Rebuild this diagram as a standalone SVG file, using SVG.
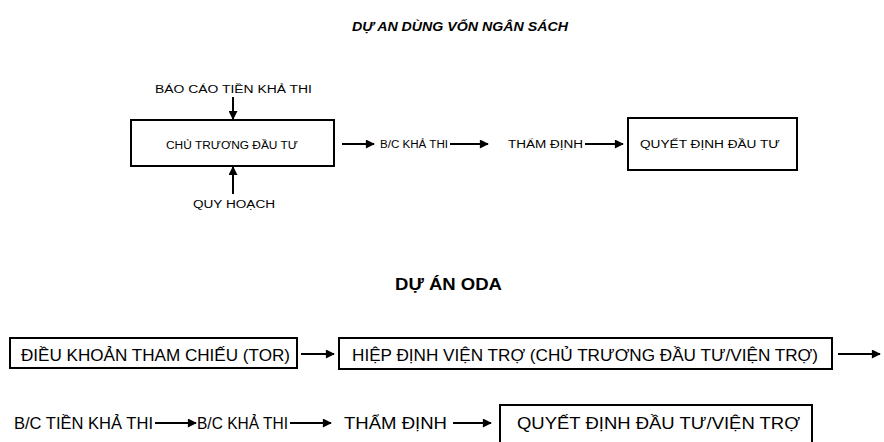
<svg xmlns="http://www.w3.org/2000/svg" width="884" height="442" viewBox="0 0 884 442">
  <style>
    .title { font-family: "Liberation Sans", Arial, sans-serif; font-weight: bold; font-style: italic; fill: #000; }
    .heading { font-family: "Liberation Sans Narrow", "Liberation Sans", Arial, sans-serif; font-weight: bold; font-style: normal; fill: #000; }
    .small { font-family: "Liberation Sans", Arial, sans-serif; font-size: 10px; fill: #000; }
    .big { font-family: "Liberation Sans Narrow", "Liberation Sans", Arial, sans-serif; font-size: 16px; fill: #000; }
    .box { fill: #fff; stroke: #000; stroke-width: 2; }
    .edge { stroke: #000; stroke-width: 2; fill: none; marker-end: url(#arrow); }
  </style>
  <defs>
    <marker id="arrow" viewBox="0 0 10 10" refX="9" refY="5" markerWidth="5" markerHeight="4.5" orient="auto" markerUnits="strokeWidth">
      <path d="M0,0 L10,5 L0,10 z" fill="#000"/>
    </marker>
  </defs>
  <rect width="884" height="442" fill="#fff"/>

  <!-- section 1: state budget projects -->
  <text class="title" x="352" y="31" font-size="12" textLength="216" lengthAdjust="spacingAndGlyphs">DỰ AN DÙNG VỐN NGÂN SÁCH</text>

  <g id="bao-cao-tien-kha-thi">
    <text class="small" x="155" y="93" textLength="157" lengthAdjust="spacingAndGlyphs">BÁO CÁO TIỀN KHẢ THI</text>
  </g>
  <g id="chu-truong-dau-tu">
    <rect class="box" x="131" y="120" width="203" height="46"/>
    <text class="small" x="232" y="149" text-anchor="middle" textLength="132" lengthAdjust="spacingAndGlyphs">CHỦ TRƯƠNG ĐẦU TƯ</text>
  </g>
  <g id="quy-hoach">
    <text class="small" x="193" y="208" textLength="82" lengthAdjust="spacingAndGlyphs">QUY HOẠCH</text>
  </g>
  <g id="bc-kha-thi-1">
    <text class="small" x="380" y="148" textLength="68" lengthAdjust="spacingAndGlyphs">B/C KHẢ THI</text>
  </g>
  <g id="tham-dinh-1">
    <text class="small" x="508" y="148" textLength="75" lengthAdjust="spacingAndGlyphs">THẨM ĐỊNH</text>
  </g>
  <g id="quyet-dinh-dau-tu">
    <rect class="box" x="628" y="118" width="169" height="52"/>
    <text class="small" x="710" y="148" text-anchor="middle" textLength="140" lengthAdjust="spacingAndGlyphs">QUYẾT ĐỊNH ĐẦU TƯ</text>
  </g>

  <!-- section 2: ODA projects -->
  <text class="heading" x="395" y="290" font-size="17" textLength="107" lengthAdjust="spacingAndGlyphs">DỰ ÁN ODA</text>

  <g id="dieu-khoan-tor">
    <rect class="box" x="10" y="338" width="287" height="30"/>
    <text class="big" x="21" y="361" textLength="269" lengthAdjust="spacingAndGlyphs">ĐIỀU KHOẢN THAM CHIẾU (TOR)</text>
  </g>
  <g id="hiep-dinh-vien-tro">
    <rect class="box" x="339" y="338" width="493" height="31"/>
    <text class="big" x="352" y="361" textLength="466" lengthAdjust="spacingAndGlyphs">HIỆP ĐỊNH VIỆN TRỢ (CHỦ TRƯƠNG ĐẦU TƯ/VIỆN TRỢ)</text>
  </g>
  <g id="bc-tien-kha-thi">
    <text class="big" x="14" y="429" textLength="139" lengthAdjust="spacingAndGlyphs">B/C TIỀN KHẢ THI</text>
  </g>
  <g id="bc-kha-thi-2">
    <text class="big" x="197" y="429" textLength="91" lengthAdjust="spacingAndGlyphs">B/C KHẢ THI</text>
  </g>
  <g id="tham-dinh-2">
    <text class="big" x="344" y="429" textLength="103" lengthAdjust="spacingAndGlyphs">THẨM ĐỊNH</text>
  </g>
  <g id="quyet-dinh-vien-tro">
    <path class="box" d="M500,443 V405 H812 V443"/>
    <text class="big" x="517" y="429" textLength="283" lengthAdjust="spacingAndGlyphs">QUYẾT ĐỊNH ĐẦU TƯ/VIỆN TRỢ</text>
  </g>

  <g id="connectors">
    <line class="edge" x1="233" y1="97" x2="233" y2="119"/>
    <line class="edge" x1="233" y1="194" x2="233" y2="167"/>
    <line class="edge" x1="342" y1="144" x2="374" y2="144"/>
    <line class="edge" x1="450" y1="144" x2="488" y2="144"/>
    <line class="edge" x1="585" y1="144" x2="623" y2="144"/>
    <line class="edge" x1="301" y1="354" x2="334" y2="354"/>
    <line class="edge" x1="838" y1="354" x2="880" y2="354"/>
    <line class="edge" x1="155" y1="423" x2="196" y2="423"/>
    <line class="edge" x1="290" y1="423" x2="331" y2="423"/>
    <line class="edge" x1="453" y1="423" x2="491" y2="423"/>
  </g>
</svg>
